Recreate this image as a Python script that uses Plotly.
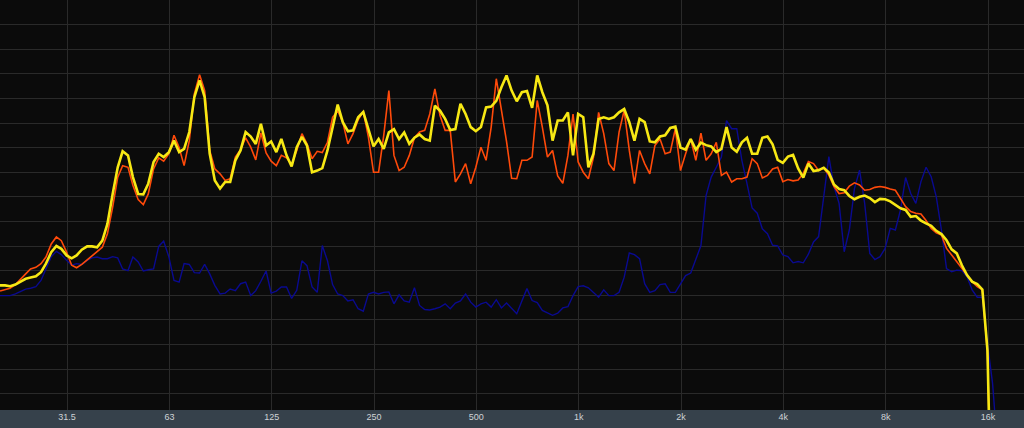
import math
import plotly.graph_objects as go

# Frequency bins (Hz), 1/20-octave spacing from 20 Hz
freqs = [
    20.0, 20.7, 21.4, 22.2, 23.0, 23.8, 24.6, 25.5, 26.4, 27.3, 28.3, 29.3, 30.3, 31.4, 32.5, 33.6, 34.8, 36.1, 37.3, 38.6,
    40.0, 41.4, 42.9, 44.4, 45.9, 47.6, 49.2, 51.0, 52.8, 54.6, 56.6, 58.6, 60.6, 62.8, 65.0, 67.3, 69.6, 72.1, 74.6, 77.3,
    80.0, 82.8, 85.7, 88.8, 91.9, 95.1, 98.5, 102.0, 105.6, 109.3, 113.1, 117.1, 121.3, 125.5, 130.0, 134.5, 139.3, 144.2, 149.3, 154.6,
    160.0, 165.6, 171.5, 177.5, 183.8, 190.3, 197.0, 203.9, 211.1, 218.6, 226.3, 234.3, 242.5, 251.1, 259.9, 269.1, 278.6, 288.4, 298.6, 309.1,
    320.0, 331.3, 343.0, 355.1, 367.6, 380.5, 394.0, 407.9, 422.2, 437.1, 452.5, 468.5, 485.0, 502.1, 519.8, 538.2, 557.2, 576.8, 597.1, 618.2,
    640.0, 662.6, 685.9, 710.1, 735.2, 761.1, 787.9, 815.7, 844.5, 874.3, 905.1, 937.0, 970.1, 1004.3, 1039.7, 1076.3, 1114.3, 1153.6, 1194.3, 1236.4,
    1280.0, 1325.1, 1371.9, 1420.2, 1470.3, 1522.2, 1575.9, 1631.4, 1689.0, 1748.5, 1810.2, 1874.0, 1940.1, 2008.5, 2079.4, 2152.7, 2228.6, 2307.2, 2388.6, 2472.8,
    2560.0, 2650.3, 2743.7, 2840.5, 2940.7, 3044.4, 3151.7, 3262.9, 3378.0, 3497.1, 3620.4, 3748.1, 3880.2, 4017.1, 4158.7, 4305.4, 4457.2, 4614.4, 4777.1, 4945.6,
    5120.0, 5300.6, 5487.5, 5681.0, 5881.3, 6088.7, 6303.4, 6525.7, 6755.9, 6994.1, 7240.8, 7496.1, 7760.5, 8034.2, 8317.5, 8610.8, 8914.5, 9228.9, 9554.3, 9891.2,
    10240.0, 10601.0, 10975.0, 11362.0, 11763.0, 12177.0, 12607.0, 13051.0, 13512.0, 13988.0, 14482.0, 14992.0, 15521.0, 16068.0, 16635.0, 17222.0,
]

# Levels (dB)
yellow_db = [
    -69.6, -69.6, -69.8, -69.4, -68.7, -68.0, -67.7, -67.4, -66.4, -64.3,
    -61.5, -60.0, -60.7, -62.3, -63.0, -62.3, -60.9, -60.1, -60.1, -60.3,
    -58.7, -54.6, -47.3, -40.8, -36.9, -37.9, -43.2, -47.3, -47.4, -44.8,
    -39.5, -37.5, -38.3, -37.1, -34.3, -37.1, -36.3, -32.2, -23.7, -19.6,
    -23.7, -37.5, -44.0, -46.0, -44.4, -44.4, -39.1, -36.7, -32.2, -33.3,
    -35.1, -30.2, -35.5, -34.5, -37.1, -33.9, -37.9, -40.6, -35.9, -33.4,
    -35.5, -42.0, -41.6, -41.0, -36.7, -31.0, -25.5, -29.8, -32.0, -31.8,
    -28.6, -27.3, -31.8, -35.7, -33.9, -36.3, -32.3, -31.5, -33.9, -32.3,
    -35.1, -33.6, -32.8, -33.9, -34.3, -25.8, -27.0, -29.0, -31.7, -31.5,
    -25.3, -27.8, -31.0, -32.0, -31.0, -26.2, -26.0, -24.6, -21.3, -18.4,
    -22.1, -24.7, -22.5, -22.2, -26.3, -18.4, -22.5, -25.7, -34.3, -29.4,
    -29.4, -27.4, -37.9, -27.8, -28.6, -40.8, -37.5, -29.0, -28.6, -29.0,
    -28.6, -27.4, -26.6, -29.8, -34.3, -29.0, -29.8, -34.5, -34.7, -33.3,
    -33.0, -31.2, -30.9, -36.0, -36.5, -33.9, -36.5, -34.8, -35.4, -35.7,
    -37.1, -36.3, -31.0, -36.0, -37.0, -34.7, -33.6, -37.5, -37.5, -33.6,
    -33.3, -35.2, -39.0, -39.7, -38.2, -37.8, -41.1, -43.3, -39.9, -41.7,
    -41.5, -40.9, -42.1, -45.0, -46.1, -46.4, -47.8, -48.6, -48.0, -47.7,
    -48.3, -49.3, -48.5, -48.6, -49.1, -49.9, -50.8, -51.2, -52.9, -52.7,
    -53.8, -54.5, -55.1, -56.3, -57.1, -58.6, -60.8, -61.8, -64.7, -67.1,
    -68.7, -69.3, -70.6, -85.4, -140.0,
]

orange_db = [
    -71.0, -70.7, -70.3, -69.4, -68.2, -66.8, -65.6, -65.2, -64.3, -62.7,
    -59.5, -57.8, -58.7, -61.5, -64.7, -65.3, -64.5, -63.4, -62.5, -61.5,
    -60.3, -57.0, -50.5, -43.2, -40.4, -40.8, -45.2, -48.7, -49.9, -47.3,
    -41.2, -38.5, -39.3, -37.5, -33.0, -36.0, -40.4, -34.3, -22.9, -18.2,
    -22.1, -36.7, -41.2, -42.4, -44.0, -43.6, -38.3, -36.5, -33.6, -35.9,
    -39.0, -32.4, -37.3, -39.3, -40.4, -37.9, -38.5, -40.1, -36.7, -32.6,
    -35.1, -38.7, -36.9, -37.2, -34.7, -28.6, -27.0, -29.8, -35.1, -32.6,
    -29.2, -27.2, -33.4, -42.0, -42.0, -33.0, -22.1, -37.9, -41.6, -40.8,
    -37.9, -33.6, -32.2, -31.8, -27.8, -21.7, -28.2, -31.8, -31.8, -44.4,
    -42.4, -39.9, -44.8, -40.8, -35.9, -39.1, -31.0, -19.2, -27.0, -34.5,
    -43.5, -43.6, -39.1, -39.1, -38.3, -24.5, -31.0, -38.3, -36.7, -42.9,
    -44.7, -37.9, -27.8, -39.5, -42.0, -43.6, -38.3, -27.4, -32.6, -39.9,
    -41.6, -32.2, -26.9, -36.7, -44.8, -36.7, -39.9, -42.4, -35.5, -33.9,
    -37.5, -37.1, -31.4, -41.6, -37.5, -33.9, -39.1, -32.5, -39.1, -37.5,
    -34.7, -42.8, -42.0, -44.4, -43.6, -43.6, -43.2, -38.7, -39.9, -43.4,
    -42.8, -41.2, -40.8, -44.3, -43.8, -44.1, -43.9, -42.3, -39.4, -39.9,
    -41.6, -41.0, -42.7, -45.5, -47.2, -47.0, -45.4, -44.6, -45.1, -46.4,
    -46.2, -45.7, -45.5, -45.7, -46.1, -46.4, -48.4, -50.4, -51.6, -52.0,
    -52.2, -53.8, -55.7, -56.8, -57.3, -60.6, -62.2, -63.8, -65.7, -67.1,
    -68.7, -69.9, -70.7, -86.0, -140.0,
]

blue_db = [
    -72.1, -72.1, -72.1, -71.7, -71.0, -70.5, -70.3, -69.9, -68.4, -65.6,
    -62.6, -61.3, -62.1, -63.5, -64.7, -64.3, -64.5, -63.5, -62.9, -62.7,
    -63.1, -63.1, -62.6, -62.9, -65.6, -66.0, -62.7, -63.9, -66.1, -65.8,
    -65.6, -60.1, -58.8, -62.7, -68.4, -68.8, -64.3, -64.5, -66.5, -66.6,
    -64.5, -66.8, -69.6, -71.7, -71.5, -70.5, -70.9, -69.2, -68.8, -72.1,
    -70.9, -68.6, -66.1, -71.5, -71.0, -70.0, -70.0, -72.8, -70.8, -63.6,
    -64.8, -70.0, -71.3, -59.9, -63.6, -69.4, -71.7, -72.1, -73.4, -73.1,
    -75.3, -75.9, -71.7, -71.3, -71.7, -71.3, -71.2, -74.1, -71.9, -73.4,
    -73.7, -70.2, -74.5, -75.5, -75.6, -75.3, -74.9, -74.1, -75.3, -73.9,
    -73.4, -71.7, -73.7, -74.9, -74.1, -73.7, -74.9, -73.1, -75.1, -73.9,
    -75.3, -76.5, -73.4, -70.4, -73.3, -73.8, -75.7, -76.4, -76.9, -76.4,
    -75.1, -74.8, -72.1, -69.9, -69.7, -70.2, -71.3, -72.5, -70.7, -72.1,
    -72.1, -71.3, -67.6, -61.7, -62.1, -63.1, -69.2, -71.3, -70.9, -69.4,
    -69.2, -71.3, -71.3, -69.1, -67.2, -66.6, -63.4, -59.9, -47.7, -43.2,
    -40.8, -38.3, -29.4, -31.4, -31.4, -39.1, -44.8, -50.7, -52.0, -55.8,
    -57.0, -59.8, -60.0, -62.2, -62.6, -64.1, -63.8, -64.1, -62.0, -59.0,
    -57.7, -48.0, -38.2, -45.5, -49.6, -61.4, -56.1, -46.0, -41.5, -49.6,
    -61.8, -63.3, -62.6, -60.6, -55.7, -56.1, -51.2, -43.3, -47.2, -49.6,
    -44.3, -40.8, -43.1, -48.0, -56.1, -65.5, -66.3, -65.9, -66.0, -67.5,
    -70.7, -72.5, -72.5, -83.8, -93.5, -110.0,
]

tick_freqs = [31.5, 63, 126, 252, 504, 1008, 2016, 4032, 8064, 16128]
tick_labels = ["31.5", "63", "125", "250", "500", "1k", "2k", "4k", "8k", "16k"]

fig = go.Figure()
fig.add_trace(go.Scatter(x=freqs[:len(blue_db)], y=blue_db, mode="lines",
                         line=dict(color="#0a0a90", width=1.4), hoverinfo="skip"))
fig.add_trace(go.Scatter(x=freqs[:len(orange_db)], y=orange_db, mode="lines",
                         line=dict(color="#ff4a0a", width=1.6), hoverinfo="skip"))
fig.add_trace(go.Scatter(x=freqs[:len(yellow_db)], y=yellow_db, mode="lines",
                         line=dict(color="#f7e814", width=2.6), hoverinfo="skip"))

fig.update_layout(
    width=1024, height=428,
    margin=dict(l=0, r=0, t=0, b=18),
    paper_bgcolor="#36414b",
    plot_bgcolor="#0b0b0b",
    showlegend=False,
    xaxis=dict(
        type="log",
        range=[math.log10(20), math.log10(20580)],
        tickvals=tick_freqs, ticktext=tick_labels,
        showgrid=True, gridcolor="#2a2a2a", gridwidth=1,
        zeroline=False, showline=False, ticks="",
        tickfont=dict(family="Liberation Sans, Arial, sans-serif", size=9, color="#cfd3d6"),
        fixedrange=True,
    ),
    yaxis=dict(
        range=[-100, 0], tick0=0, dtick=6,
        showgrid=True, gridcolor="#2a2a2a", gridwidth=1,
        showticklabels=False, zeroline=False, showline=False, ticks="",
        fixedrange=True,
    ),
)

fig.write_html(
    "out.html",
    config={"displayModeBar": False},
    post_script="document.body.style.margin='0';document.body.style.overflow='hidden';",
)
